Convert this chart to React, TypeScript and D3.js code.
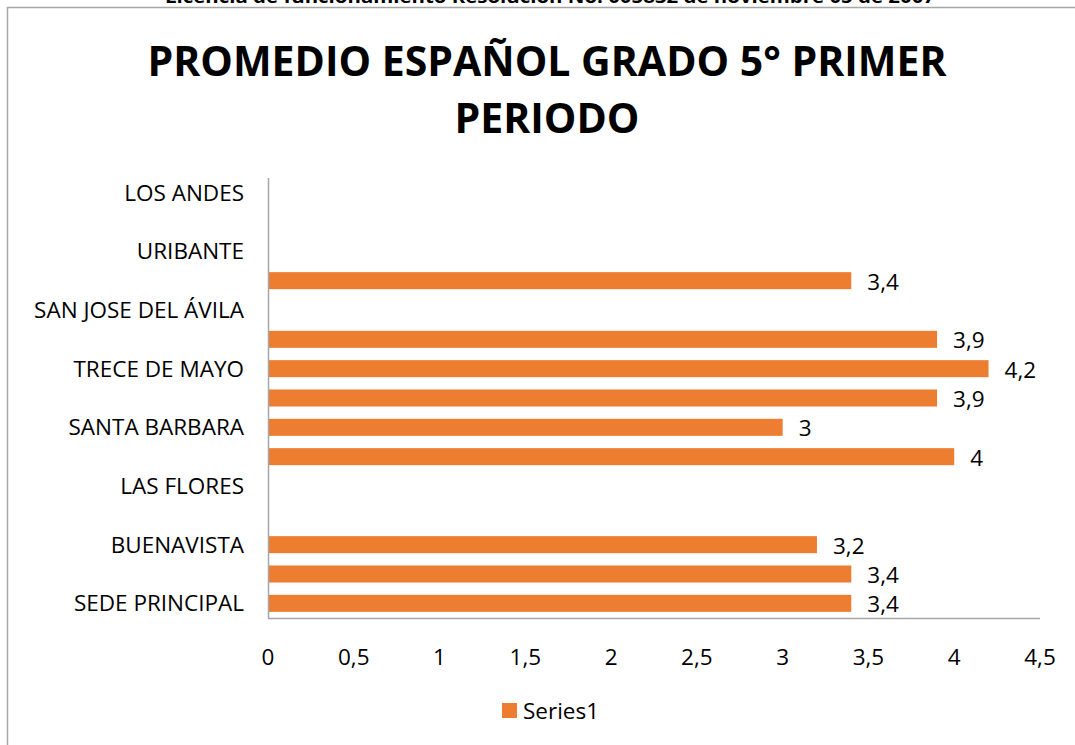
import React from "react";
import * as d3 from "d3";

const categories: string[] = [
  "SEDE PRINCIPAL", "", "BUENAVISTA", "", "LAS FLORES", "", "SANTA BARBARA", "",
  "TRECE DE MAYO", "", "SAN JOSE DEL ÁVILA", "", "URIBANTE", "", "LOS ANDES",
];
const values: (number | null)[] = [
  3.4, 3.4, 3.2, null, null, 4, 3, 3.9, 4.2, 3.9, null, 3.4, null, null, null,
];
const xTicks: number[] = [0, 0.5, 1, 1.5, 2, 2.5, 3, 3.5, 4, 4.5];
const seriesName = "Series1";
const titleLines = ["PROMEDIO ESPAÑOL GRADO 5° PRIMER", "PERIODO"];
const headerText = "Licencia de funcionamiento Resolución No. 005832 de noviembre 05 de 2007";

const W = 1075;
const H = 745;
const FONT = "'Open Sans', 'Noto Sans', sans-serif";
const ORANGE = "#ED7D31";
const fmt = (v: number) => String(v).replace(".", ",");

export default function App() {
  const left = 268, right = 1040, top = 178, bottom = 618;
  const x = d3.scaleLinear().domain([0, 4.5]).range([left, right]);
  const idx = categories.map((_, i) => String(i));
  const y = d3.scaleBand().domain(idx).range([bottom, top]).paddingInner(0.42).paddingOuter(0.21);
  const bw = y.bandwidth();
  const fs = 22.5;

  return (
    <div style={{ position: "absolute", left: 0, top: 0 }}>
      <svg width={W} height={H} style={{ display: "block", fontFamily: FONT }}>
        <rect x={0} y={0} width={W} height={H} fill="#fff" />
        <text x={165} y={3} fontSize={17} fontWeight={700} fill="#000" textLength={770} lengthAdjust="spacingAndGlyphs">
          {headerText}
        </text>
        <path d={`M7.5,${H} V7.5 H${W}`} fill="none" stroke="#a6a6a6" strokeWidth={1.5} />
        {titleLines.map((t, i) => (
          <text key={i} x={547} y={76 + i * 57} textAnchor="middle" fontSize={41} fontWeight={700} fill="#000">
            {t}
          </text>
        ))}
        {values.map((v, i) =>
          v == null ? null : (
            <g key={i}>
              <rect x={x(0)} y={y(String(i))!} width={x(v) - x(0)} height={bw} fill={ORANGE} />
              <text x={x(v) + 16} y={y(String(i))! + bw / 2 + 9} fontSize={fs} fill="#000">
                {fmt(v)}
              </text>
            </g>
          )
        )}
        <line x1={left} x2={right} y1={bottom + 0.5} y2={bottom + 0.5} stroke="#a6a6a6" strokeWidth={1.5} />
        <line x1={left + 0.5} x2={left + 0.5} y1={top} y2={bottom} stroke="#a6a6a6" strokeWidth={1.5} />
        {categories.map((c, i) =>
          c ? (
            <text key={i} x={244} y={y(String(i))! + bw / 2 + 8} textAnchor="end" fontSize={fs} fill="#000">
              {c}
            </text>
          ) : null
        )}
        {xTicks.map((t) => (
          <text key={t} x={x(t)} y={665} textAnchor="middle" fontSize={fs} fill="#000">
            {fmt(t)}
          </text>
        ))}
        <rect x={502} y={703} width={15} height={15} fill={ORANGE} />
        <text x={523} y={719} fontSize={fs} fill="#000">{seriesName}</text>
      </svg>
    </div>
  );
}
